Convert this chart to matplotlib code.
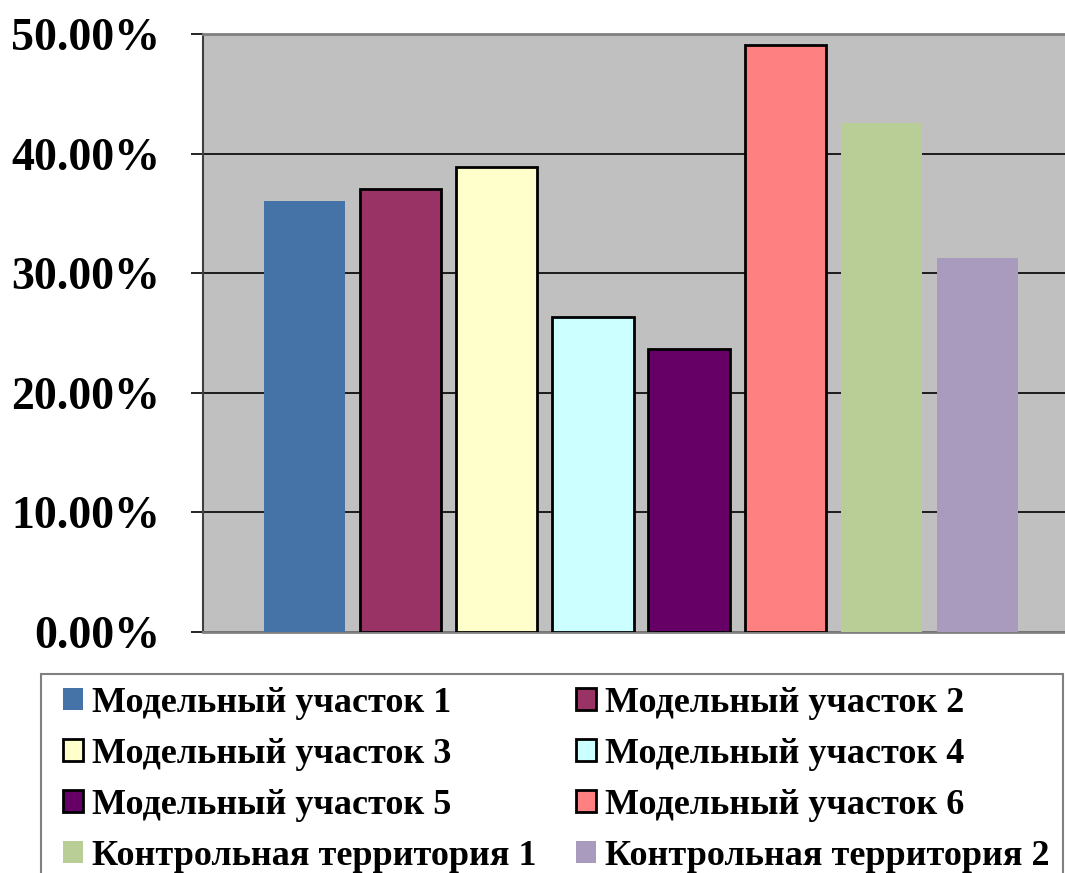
import matplotlib
matplotlib.use("Agg")
import matplotlib.pyplot as plt
from matplotlib.patches import Rectangle
from matplotlib.ticker import FuncFormatter, MultipleLocator

sites = [
    "Модельный участок 1",
    "Модельный участок 2",
    "Модельный участок 3",
    "Модельный участок 4",
    "Модельный участок 5",
    "Модельный участок 6",
    "Контрольная территория 1",
    "Контрольная территория 2",
]
shares = [36.0, 37.0, 38.9, 26.3, 23.7, 49.1, 42.6, 31.3]
colors = ["#4572A7", "#993366", "#FFFFCC", "#CCFFFF",
          "#660066", "#FF8080", "#B9CD96", "#A99BBD"]
outlined = [False, True, True, True, True, True, False, False]

plt.rcParams["font.family"] = ["Liberation Serif", "DejaVu Serif"]
plt.rcParams["font.weight"] = "bold"

W, H = 1065, 873
fig = plt.figure(figsize=(W / 100, H / 100), dpi=100)
ax = fig.add_axes([203 / W, 1 - 632 / H, (1079 - 203) / W, (632 - 34) / H])
ax.set_facecolor("#C0C0C0")

handles = []
for i, (name, val, col, edge) in enumerate(zip(sites, shares, colors, outlined)):
    b = ax.bar(i, val, width=0.844, color=col,
               edgecolor="black" if edge else col,
               linewidth=2.0 if edge else 0, label=name, zorder=3)
    handles.append(b)

ax.set_xlim(-1.057, 8.057)
ax.set_ylim(0, 50)
ax.yaxis.set_major_locator(MultipleLocator(10))
ax.yaxis.set_major_formatter(FuncFormatter(lambda v, p: f"{v:.2f}%"))
ax.grid(axis="y", color="black", linewidth=1.2, zorder=1)
ax.set_xticks([])
ax.tick_params(axis="y", direction="out", length=9, width=1.2, pad=22,
               labelsize=33, color="black")
for lbl in ax.get_yticklabels():
    lbl.set_fontweight("bold")

for side in ["top", "right", "bottom"]:
    ax.spines[side].set_color("#808080")
    ax.spines[side].set_linewidth(2)
ax.spines["left"].set_color("#404040")
ax.spines["left"].set_linewidth(1.5)

# legend box runs past the bottom edge, so draw it by hand
fig.patches.append(Rectangle((41 / W, -0.05), (1063 - 41) / W, 0.05 + 1 - 674 / H,
                             transform=fig.transFigure, fill=False,
                             edgecolor="#808080", linewidth=1.5))

# legend fills row by row, matplotlib fills columns, so reorder
order = [0, 2, 4, 6, 1, 3, 5, 7]
leg = fig.legend(handles=[handles[k] for k in order], loc="upper left",
                 bbox_to_anchor=(63 / W, 1 - 687 / H),
                 ncol=2, prop={"weight": "bold", "size": 26},
                 handlelength=0.555, handleheight=0.555, handletextpad=0.25,
                 columnspacing=1.08, labelspacing=0.5, borderpad=0,
                 borderaxespad=0, frameon=False)

fig.savefig("out.png", dpi=100)
